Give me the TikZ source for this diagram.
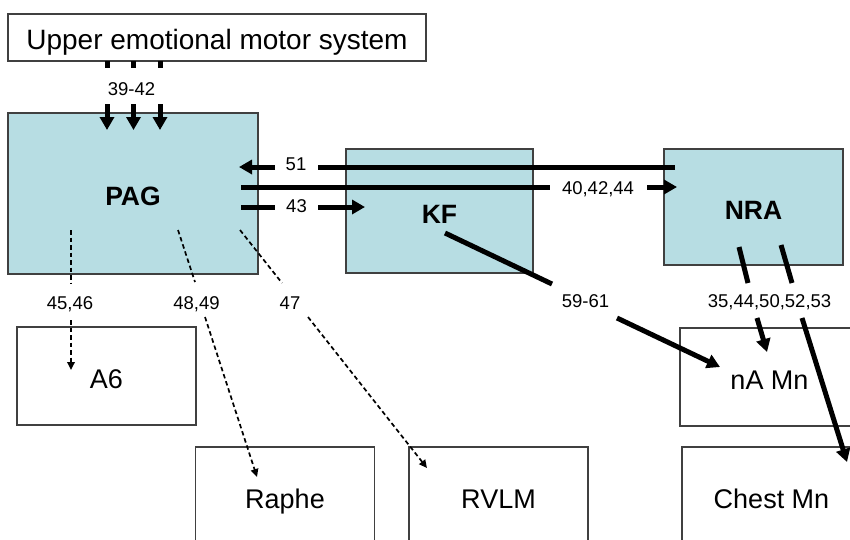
\documentclass[tikz,border=0pt]{standalone}
\usepackage{fontspec}
\setmainfont{Liberation Sans}
\usetikzlibrary{arrows.meta}
\definecolor{boxblue}{RGB}{183,221,227}
\definecolor{edgegray}{RGB}{64,64,64}
\begin{document}
\begin{tikzpicture}[x=1pt,y=-1pt,
  plainbox/.style={draw=edgegray, line width=1.3pt, inner sep=0pt,
    minimum width=179pt, minimum height=98pt,
    text height=25pt, text depth=0pt, font=\fontsize{27}{30}\selectfont},
  nucleus/.style={draw=edgegray, fill=boxblue, line width=1.3pt, inner sep=0pt,
    text height=24pt, text depth=0pt, font=\bfseries\fontsize{26.5}{30}\selectfont},
  numlab/.style={inner sep=0pt, text height=13.2pt, text depth=0pt,
    font=\fontsize{18.5}{20}\selectfont},
  heavy/.style={line width=5pt},
  heavyarrow/.style={line width=5pt, -{Triangle[length=13pt,width=14pt]}},
  dashline/.style={line width=1.7pt, dash pattern=on 4.5pt off 3pt},
  dashlink/.style={dashline, -{Triangle[length=8pt,width=7.5pt]}}
]
\clip (0,0) rectangle (850,539);

% boxes
\node[draw=edgegray, line width=1.3pt, inner sep=0pt, minimum width=418pt,
  minimum height=47pt, text height=23pt, text depth=0pt,
  font=\fontsize{28}{30}\selectfont] (uems) at (217,37.5) {Upper emotional motor system};
\node[nucleus, minimum width=250pt, minimum height=161pt] (pag) at (133,193.5) {PAG};
\node[nucleus, minimum width=187pt, minimum height=124pt] (kf) at (439.5,211) {KF};
\node[nucleus, minimum width=179pt, minimum height=116pt] (nra) at (753.5,207) {NRA};
\node[plainbox] (a6) at (106.5,376) {A6};
\node[plainbox] (raphe) at (285,496) {Raphe};
\node[plainbox] (rvlm) at (498.5,496) {RVLM};
\node[plainbox] (namn) at (769.5,377) {nA Mn};
\node[plainbox] (chestmn) at (771.5,496) {Chest Mn};

% reference numbers
\node[numlab] (l3942) at (131.5,88.5) {39-42};
\node[numlab] (l51) at (296,164) {51};
\node[numlab] (l404244) at (598,187.5) {40,42,44};
\node[numlab] (l43) at (296.5,206) {43};
\node[numlab] (l4546) at (70,302.5) {45,46};
\node[numlab] (l4849) at (196.5,302.5) {48,49};
\node[numlab] (l47) at (290,302.5) {47};
\node[numlab] (l5961) at (585.5,301) {59-61};
\node[numlab] (l3553) at (769.5,301) {35,44,50,52,53};

% upper emotional motor system -> PAG
\foreach \x [count=\i] in {107,133.5,160} {
  \coordinate (ua\i) at (\x,61);
  \coordinate (ub\i) at (\x,68);
  \coordinate (uc\i) at (\x,104);
  \coordinate (ud\i) at (\x,130);
  \draw[heavy] (ua\i) -- (ub\i);
  \draw[heavyarrow] (uc\i) -- (ud\i);
}

% NRA -> PAG (51)
\coordinate (n51a) at (675,167);
\coordinate (n51b) at (318,167);
\coordinate (n51c) at (275,167);
\coordinate (n51d) at (239,167);
\draw[heavy] (n51a) -- (n51b);
\draw[heavyarrow] (n51c) -- (n51d);

% PAG -> NRA (40,42,44)
\coordinate (p40a) at (241,187);
\coordinate (p40b) at (550,187);
\coordinate (p40c) at (647,187);
\coordinate (p40d) at (677,187);
\draw[heavy] (p40a) -- (p40b);
\draw[heavyarrow] (p40c) -- (p40d);

% PAG -> KF (43)
\coordinate (p43a) at (241,207);
\coordinate (p43b) at (275,207);
\coordinate (p43c) at (318,207);
\coordinate (p43d) at (365,207);
\draw[heavy] (p43a) -- (p43b);
\draw[heavyarrow] (p43c) -- (p43d);

% KF -> nA Mn (59-61)
\coordinate (k59a) at (445,233);
\coordinate (k59b) at (552,284);
\coordinate (k59c) at (617,318);
\coordinate (k59d) at (720,367);
\draw[heavy] (k59a) -- (k59b);
\draw[heavyarrow] (k59c) -- (k59d);

% NRA -> nA Mn and Chest Mn
\coordinate (r1a) at (739,247);
\coordinate (r1b) at (748,283);
\coordinate (r1c) at (757,318);
\coordinate (r1d) at (767,352);
\draw[heavy] (r1a) -- (r1b);
\draw[heavyarrow] (r1c) -- (r1d);
\coordinate (r2a) at (781,245);
\coordinate (r2b) at (792,283);
\coordinate (r2c) at (802,318);
\coordinate (r2d) at (847,462);
\draw[heavy] (r2a) -- (r2b);
\draw[heavyarrow] (r2c) -- (r2d);

% PAG -> A6, Raphe, RVLM (dashed)
\coordinate (d1a) at (71,230);
\coordinate (d1b) at (71,283);
\coordinate (d1c) at (71,320);
\coordinate (d1d) at (71,370);
\draw[dashline] (d1a) -- (d1b);
\draw[dashlink] (d1c) -- (d1d);
\coordinate (d2a) at (178,230);
\coordinate (d2b) at (195,282);
\coordinate (d2c) at (205,317);
\coordinate (d2d) at (257,477);
\draw[dashline] (d2a) -- (d2b);
\draw[dashlink] (d2c) -- (d2d);
\coordinate (d3a) at (240,230);
\coordinate (d3b) at (282,283);
\coordinate (d3c) at (308,317);
\coordinate (d3d) at (427,468);
\draw[dashline] (d3a) -- (d3b);
\draw[dashlink] (d3c) -- (d3d);
\end{tikzpicture}
\end{document}
